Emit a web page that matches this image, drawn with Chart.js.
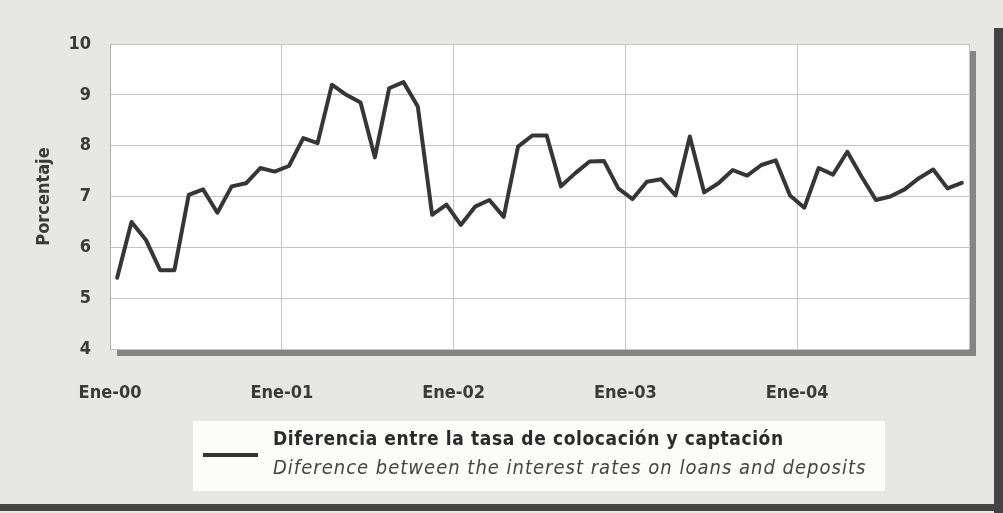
<!DOCTYPE html>
<html>
<head>
<meta charset="utf-8">
<script src="https://cdn.jsdelivr.net/npm/chart.js@4.4.1/dist/chart.umd.min.js"></script>
<style>
    html, body { margin: 0; padding: 0; }
    body {
        width: 1003px; height: 513px; overflow: hidden; position: relative;
        background: #e7e7e5;
        font-family: 'DejaVu Sans Condensed', 'Liberation Sans Narrow', 'DejaVu Sans', sans-serif;
    }
    #chart { position: absolute; left: 0; top: 0; }
    .edge-right { position: absolute; left: 994px; top: 28px; width: 9px; height: 485px; background: #444; }
    .edge-bottom { position: absolute; left: 0; top: 504px; width: 1003px; height: 7px; background: #444; }
    .legend {
        position: absolute; left: 193px; top: 421px; width: 692px; height: 70px;
        background: rgba(255, 255, 255, 0.85);
    }
    .legend__line { position: absolute; left: 10px; top: 32px; width: 55px; height: 4px; background: #333; }
    .legend__es { position: absolute; left: 80px; top: 6px; font-weight: bold; font-size: 19px; letter-spacing: 0.6px; color: #2b2b2b; white-space: nowrap; }
    .legend__en { position: absolute; left: 80px; top: 34px; font-style: italic; font-size: 20px; letter-spacing: 1px; color: #444; white-space: nowrap; }
</style>
</head>
<body>
<canvas id="chart" width="1003" height="513"></canvas>
<div class="edge-right"></div>
<div class="edge-bottom"></div>
<div class="legend">
    <div class="legend__line"></div>
    <div class="legend__es">Diferencia entre la tasa de colocación y captación</div>
    <div class="legend__en">Diference between the interest rates on loans and deposits</div>
</div>
<script>
// monthly spread, Ene-00 .. Dic-04
const spread = [
    5.40, 6.50, 6.15, 5.55, 5.55, 7.03, 7.14, 6.68, 7.20, 7.26, 7.56, 7.49,
    7.60, 8.15, 8.05, 9.20, 9.00, 8.85, 7.77, 9.13, 9.25, 8.77, 6.64, 6.84,
    6.44, 6.80, 6.93, 6.60, 7.98, 8.20, 8.20, 7.20, 7.46, 7.69, 7.70, 7.16,
    6.95, 7.29, 7.34, 7.02, 8.18, 7.08, 7.26, 7.52, 7.41, 7.62, 7.71, 7.02,
    6.78, 7.56, 7.43, 7.88, 7.39, 6.93, 7.00, 7.14, 7.36, 7.53, 7.16, 7.27
]
const xTickLabels = ['Ene-00', 'Ene-01', 'Ene-02', 'Ene-03', 'Ene-04']
const yMin = 4
const yMax = 10

const tickFont = { family: "'DejaVu Sans Condensed', 'Liberation Sans Narrow', sans-serif", size: 18, weight: 'bold' }
const gridColor = '#c4c4c4'

const plotShadow = {
    id: 'plotShadow',
    beforeDraw(chart) {
        const {ctx, chartArea: a} = chart
        ctx.save()
        ctx.fillStyle = '#858585'
        ctx.fillRect(a.left + 7, a.top + 7, a.right - a.left, a.bottom - a.top)
        ctx.fillStyle = '#ffffff'
        ctx.fillRect(a.left, a.top, a.right - a.left, a.bottom - a.top)
        ctx.restore()
    }
}

new Chart(document.getElementById('chart'), {
    type: 'line',
    data: {
        datasets: [{
            data: spread.map((v, i) => ({ x: i + 0.5, y: v })),
            borderColor: '#363636',
            borderWidth: 4,
            tension: 0,
            pointRadius: 0,
            borderJoinStyle: 'round',
            borderCapStyle: 'round'
        }]
    },
    options: {
        responsive: false,
        devicePixelRatio: 1,
        animation: false,
        layout: { padding: { top: 44, right: 31, left: 0, bottom: 0 } },
        scales: {
            x: {
                type: 'linear',
                min: 0,
                max: spread.length,
                afterBuildTicks(scale) {
                    const ticks = []
                    for (let v = 0; v <= spread.length; v += 12) ticks.push({ value: v })
                    scale.ticks = ticks
                },
                afterFit(scale) { scale.height = 164 },
                grid: { color: gridColor, drawTicks: false },
                border: { display: false },
                ticks: {
                    autoSkip: false,
                    maxRotation: 0,
                    padding: 34,
                    color: '#3a3a3a',
                    font: tickFont,
                    callback: v => xTickLabels[v / 12] || ''
                }
            },
            y: {
                min: yMin,
                max: yMax,
                afterFit(scale) { scale.width = 110 },
                grid: { color: gridColor, drawTicks: false },
                border: { color: '#b0b0b0' },
                ticks: {
                    stepSize: 1,
                    padding: 19,
                    color: '#3a3a3a',
                    font: tickFont
                },
                title: {
                    display: true,
                    text: 'Porcentaje',
                    color: '#3a3a3a',
                    font: tickFont,
                    padding: { top: 34 }
                }
            }
        },
        plugins: {
            legend: { display: false },
            title: { display: false },
            tooltip: { enabled: false }
        }
    },
    plugins: [plotShadow]
})
</script>
</body>
</html>
